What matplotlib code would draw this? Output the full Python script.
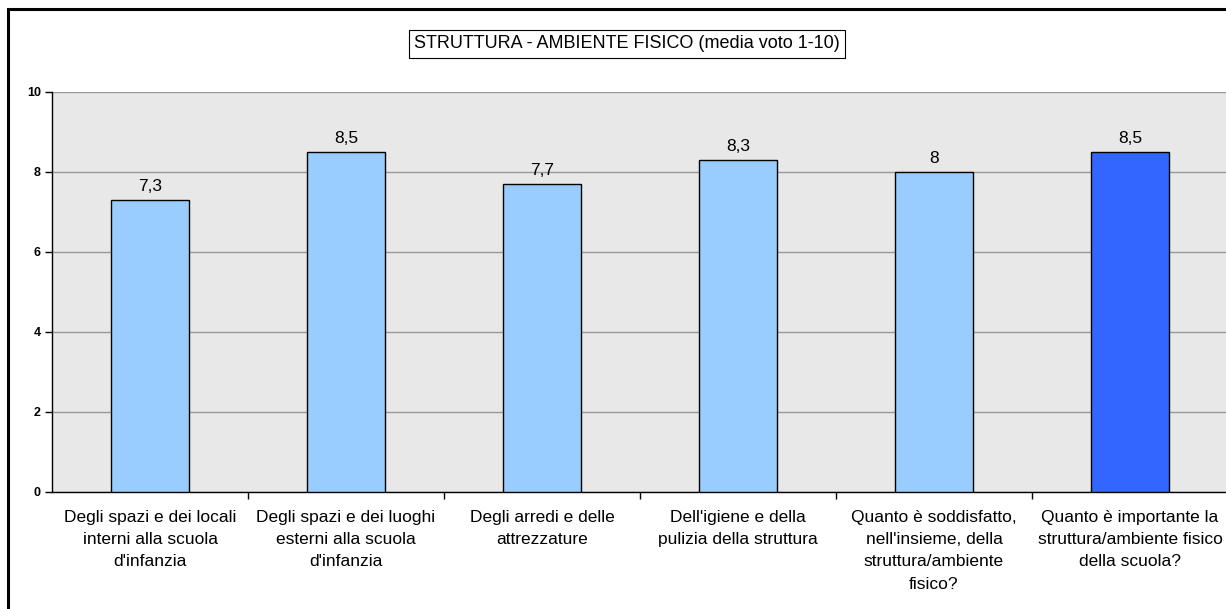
import matplotlib.pyplot as plt
from matplotlib.patches import Rectangle

plt.rcParams['font.family'] = ['Liberation Sans', 'DejaVu Sans']

categories = [
    "Degli spazi e dei locali\ninterni alla scuola\nd'infanzia",
    "Degli spazi e dei luoghi\nesterni alla scuola\nd'infanzia",
    "Degli arredi e delle\nattrezzature",
    "Dell'igiene e della\npulizia della struttura",
    "Quanto è soddisfatto,\nnell'insieme, della\nstruttura/ambiente\nfisico?",
    "Quanto è importante la\nstruttura/ambiente fisico\ndella scuola?",
]
values = [7.3, 8.5, 7.7, 8.3, 8, 8.5]
value_labels = ["7,3", "8,5", "7,7", "8,3", "8", "8,5"]
colors = ['#99CCFF'] * 5 + ['#3366FF']

fig = plt.figure(figsize=(12.26, 6.09), dpi=100)
ax = fig.add_axes([52 / 1226, 117 / 609, 1176 / 1226, 400 / 609])

x = range(len(values))
bars = ax.bar(x, values, width=0.4, color=colors, edgecolor='black', linewidth=1, zorder=3)
for b, lab in zip(bars, value_labels):
    ax.annotate(lab, (b.get_x() + b.get_width() / 2, b.get_height()),
                xytext=(0, 4), textcoords='offset points',
                ha='center', va='bottom', fontsize=12.5)

ax.set_xlim(-0.5, len(values) - 0.5)
ax.set_ylim(0, 10)
ax.set_facecolor('#E8E8E8')
ax.set_yticks([0, 2, 4, 6, 8, 10])
ax.yaxis.grid(True, color='#999999', linewidth=1, zorder=0)
ax.tick_params(axis='y', labelsize=9, length=5, width=1, pad=3)
for t in ax.get_yticklabels():
    t.set_fontweight('bold')

ax.set_xticks(list(x))
ax.set_xticklabels(categories, fontsize=12.5, linespacing=1.6, va='top')
ax.tick_params(axis='x', length=0, pad=13)
ax.set_xticks([i + 0.5 for i in range(len(values))], minor=True)
ax.tick_params(axis='x', which='minor', length=5, width=1)

for s in ['top', 'right']:
    ax.spines[s].set_visible(False)
ax.spines['left'].set_linewidth(1)
ax.spines['bottom'].set_linewidth(1)

fig.text(627 / 1226, 1 - 44 / 609, "STRUTTURA - AMBIENTE FISICO (media voto 1-10)",
         ha='center', va='center', fontsize=13,
         bbox=dict(boxstyle='square,pad=0.3', facecolor='white', edgecolor='black', linewidth=0.8))

fig.patches.append(Rectangle((8 / 1226, -0.1), 1.2, 1 - 9 / 609 + 0.1,
                             transform=fig.transFigure, fill=False,
                             edgecolor='black', linewidth=2.2))

fig.savefig('out.png', dpi=100)
